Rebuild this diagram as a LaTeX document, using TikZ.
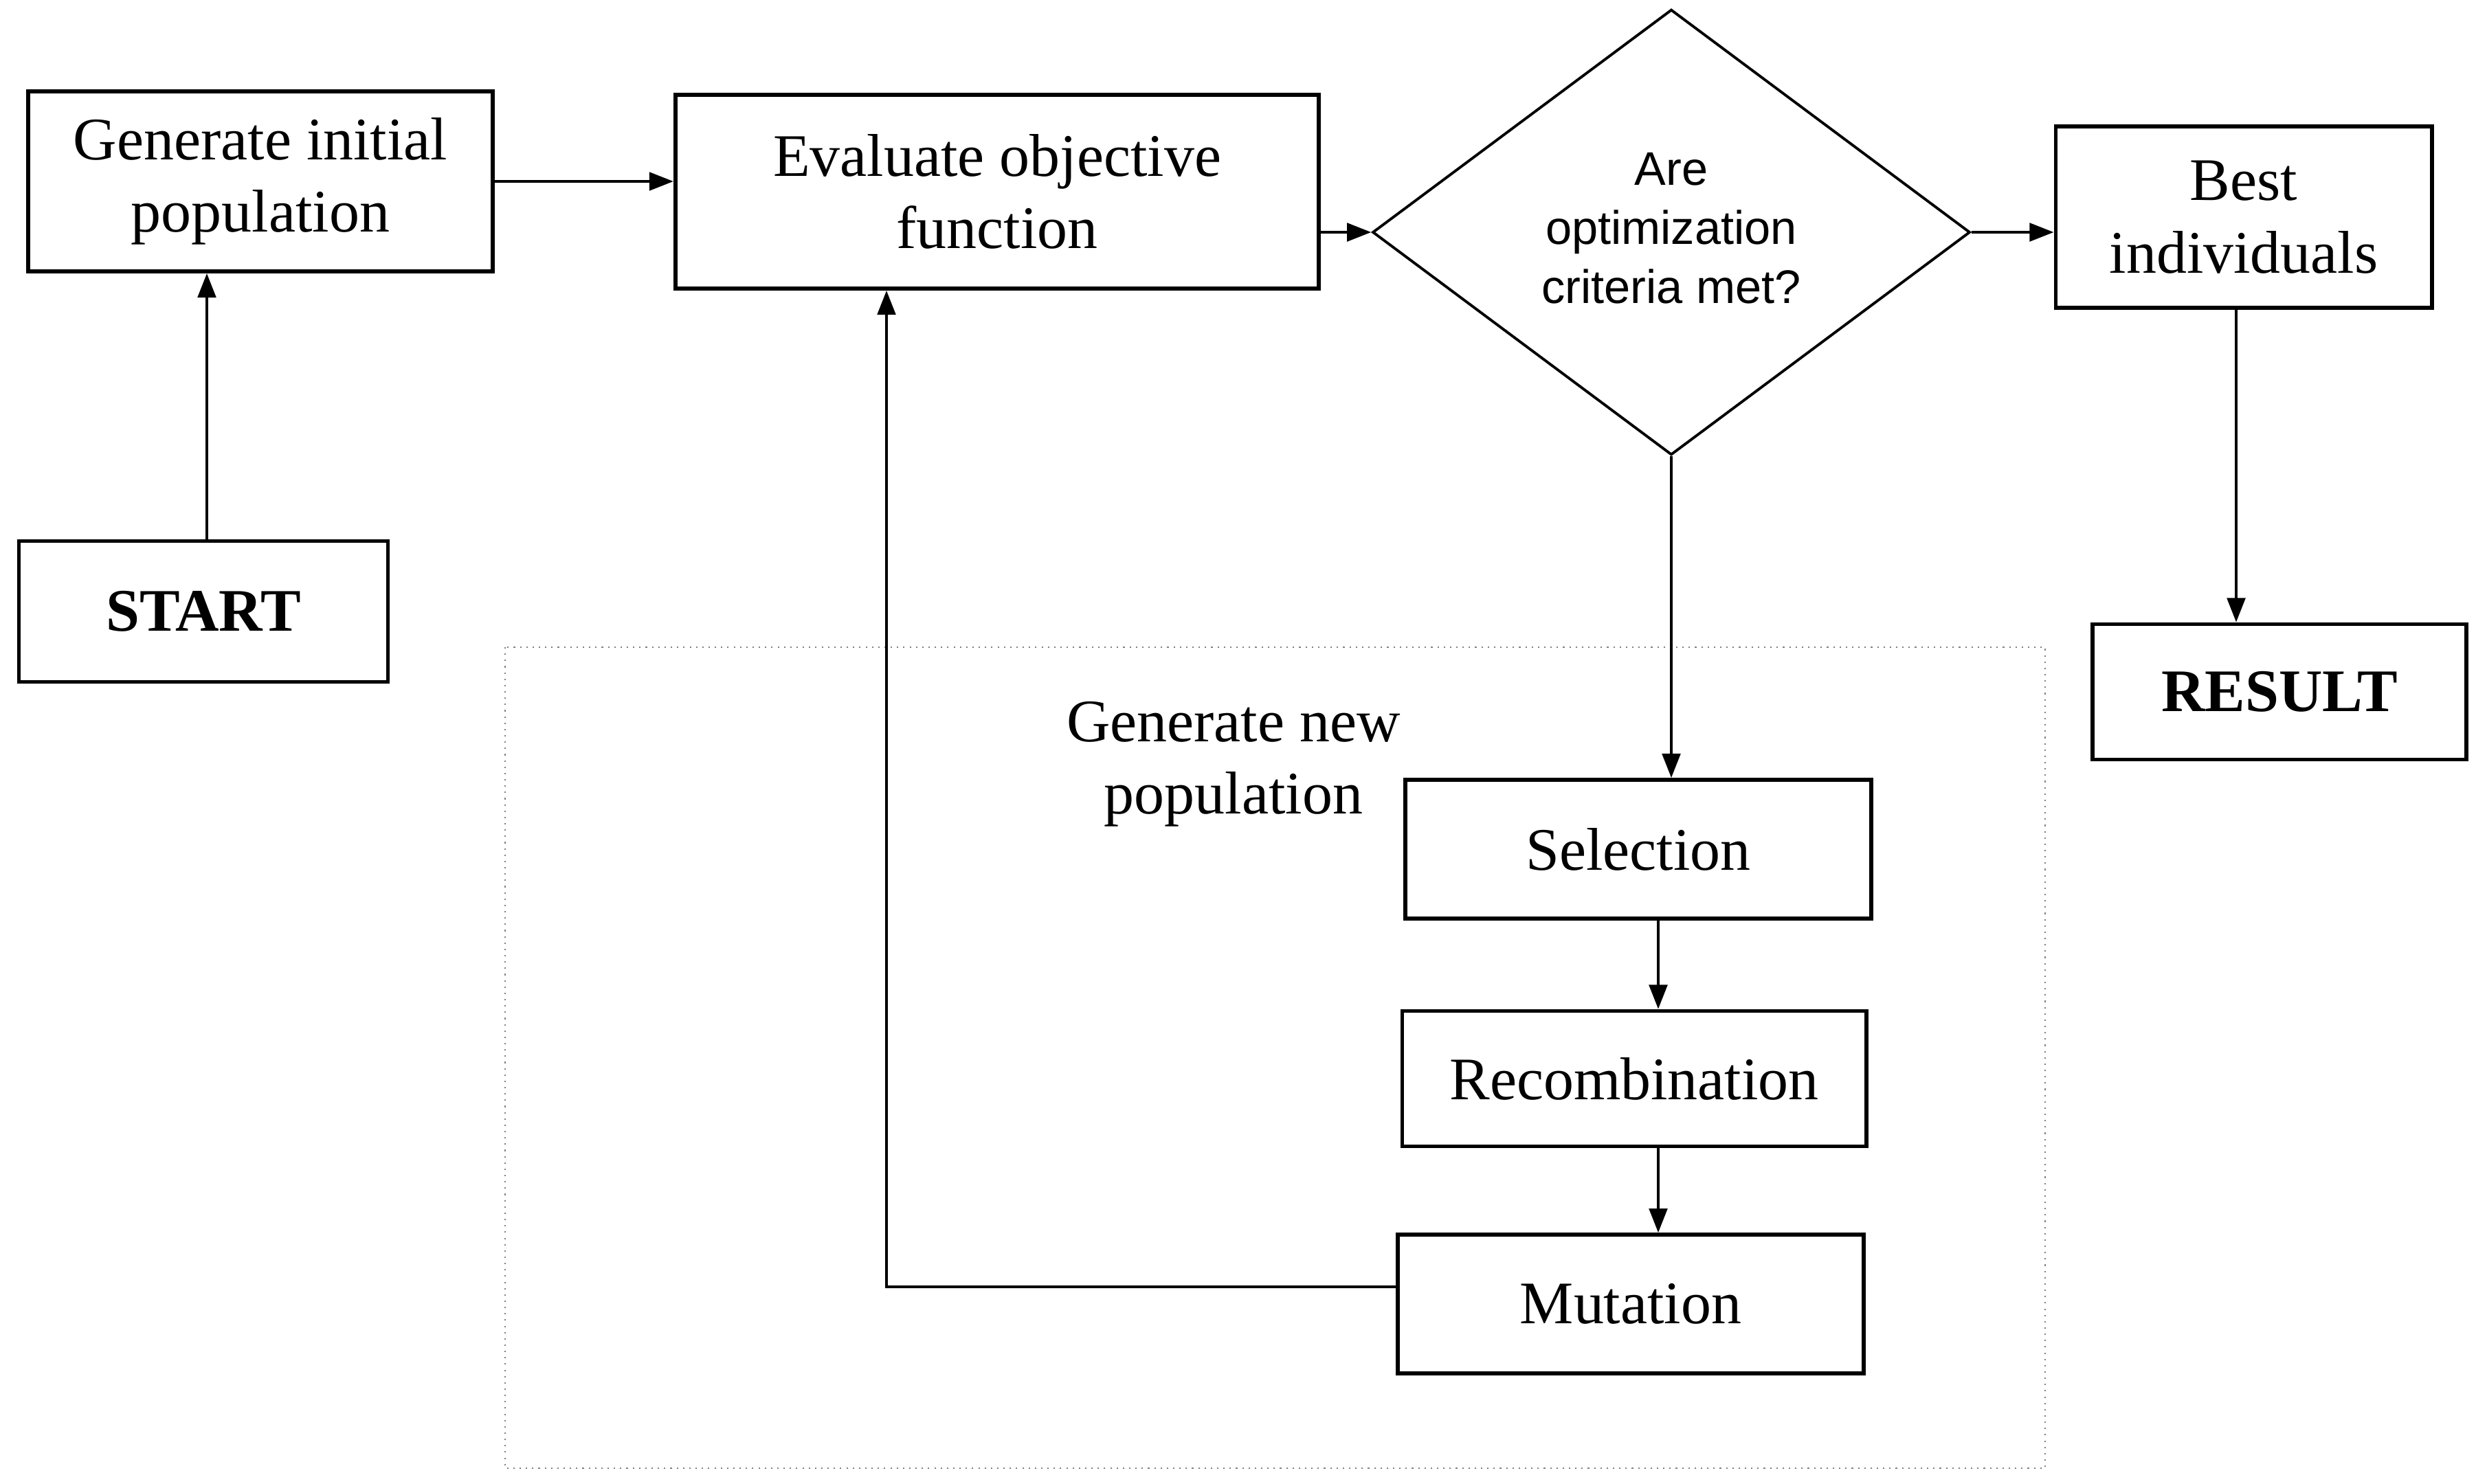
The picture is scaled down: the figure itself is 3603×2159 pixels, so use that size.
\documentclass[tikz,border=0pt]{standalone}
\usepackage{fontspec}
\setmainfont{Liberation Serif}
\newfontfamily\dsans{Liberation Sans}
\usetikzlibrary{shapes.geometric,arrows.meta}
\begin{document}
\begin{tikzpicture}[x=0.01cm,y=-0.01cm,
  box/.style={draw,line width=1.6pt,inner sep=0pt,align=center,font=\fontsize{25}{30}\selectfont},
  decbox/.style={draw,line width=1.1pt,diamond,inner sep=0pt,aspect=1.34,minimum width=8.69cm,minimum height=6.48cm,align=center,font=\dsans\fontsize{19.5}{24.5}\selectfont},
  arr/.style={line width=1.2pt,-{Triangle[length=10pt,width=7.5pt]}},
  plain/.style={line width=1pt}]
\useasboundingbox (0,0) rectangle (3603,2159);
% dotted region
\draw[gray,dotted,line width=0.6pt] (735,942) rectangle (2976,2137);
\node[box] (gi) at (379,264) [minimum width=6.76cm,minimum height=2.62cm] {Generate initial\\population};
\node[box,font=\bfseries\fontsize{25}{30}\selectfont] (start) at (296,890) [minimum width=5.37cm,minimum height=2.05cm] {START};
\node[box] (ev) at (1451,279) [minimum width=9.36cm,minimum height=2.82cm] {Evaluate objective\\function};
\node[decbox] (dec) at (2432,338) {\raisebox{14pt}{\begin{tabular}{@{}c@{}}Are\\optimization\\criteria met?\end{tabular}}};
\node[box] (best) at (3265,316) [minimum width=5.47cm,minimum height=2.64cm] {Best\\individuals};
\node[box,font=\bfseries\fontsize{25}{30}\selectfont] (res) at (3317,1007) [minimum width=5.44cm,minimum height=1.97cm] {RESULT};
\node[box] (sel) at (2384,1236) [minimum width=6.78cm,minimum height=2.02cm] {Selection};
\node[box] (rec) at (2378,1570) [minimum width=6.75cm,minimum height=1.97cm] {Recombination};
\node[box] (mut) at (2373,1898) [minimum width=6.78cm,minimum height=2.02cm] {Mutation};
\node[align=center,font=\fontsize{25}{30}\selectfont] (gnp) at (1795,1112) {Generate new\\population};
% connectors
\coordinate (sx) at (301,0);
\draw[arr] (start.north -| sx) -- (gi.south -| sx);
\draw[arr] (gi.east) -- (ev.west |- gi.east);
\draw[arr] (ev.east |- dec.west) -- (dec.west);
\draw[arr] (dec.east) -- (best.west |- dec.east);
\coordinate (bx) at (3254,0);
\draw[arr] (best.south -| bx) -- (res.north -| bx);
\draw[arr] (dec.south) -- (sel.north -| dec.south);
\coordinate (rx) at (2413,0);
\draw[arr] (sel.south -| rx) -- (rec.north -| rx);
\draw[arr] (rec.south -| rx) -- (mut.north -| rx);
\coordinate (lc) at (1290,1873);
\draw[arr] (mut.west |- lc) -- (lc) -- (lc |- ev.south);
\end{tikzpicture}
\end{document}
